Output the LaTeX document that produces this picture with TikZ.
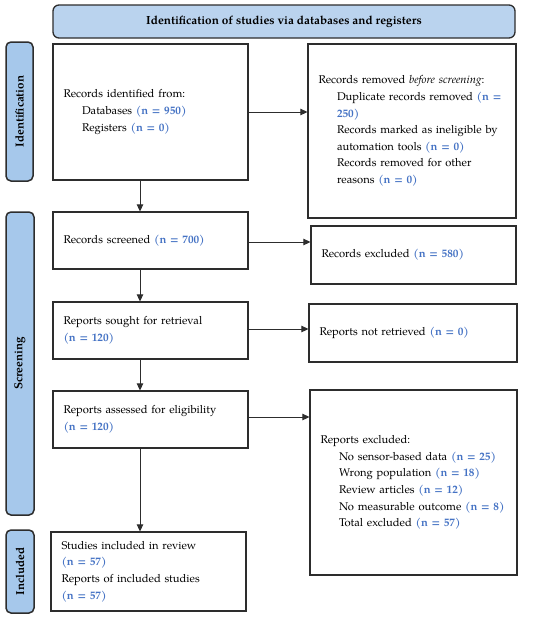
\documentclass[tikz,border=0pt]{standalone}
\usepackage{fontspec}
\setmainfont{TeX Gyre Pagella}
\usetikzlibrary{arrows.meta}
\definecolor{nblue}{RGB}{68,114,196}
\definecolor{hdrfill}{RGB}{186,211,238}
\definecolor{sidefill}{RGB}{166,200,235}
\definecolor{edge}{RGB}{45,45,45}
\newcommand{\ncnt}[1]{\textcolor{nblue}{\textbf{#1}}}
\newcommand{\ind}{\hspace*{18.5pt}}
\tikzset{
  box/.style={draw=edge, line width=1.2pt, fill=white, align=left, inner xsep=10.5pt, inner ysep=0pt,
    font=\fontsize{11.2}{16.6}\selectfont, anchor=center},
  hdr/.style={draw=edge, line width=1.3pt, fill=hdrfill, rounded corners=6pt,
    font=\fontsize{11.8}{14}\selectfont\bfseries},
  side/.style={draw=edge, line width=1.5pt, fill=sidefill, rounded corners=5pt, rotate=90,
    font=\fontsize{11.6}{14}\selectfont\bfseries, inner sep=0pt},
  arr/.style={draw=edge, line width=0.9pt, -{Triangle[width=6.5pt,length=7pt]}}
}
\begin{document}
\begin{tikzpicture}[x=1pt,y=-1pt]
\useasboundingbox (0,0) rectangle (550,619);
\fill[white] (0,0) rectangle (550,619);

\node[hdr, minimum width=462pt, minimum height=33pt] (hdr) at (284,21.5) {Identification of studies via databases and registers};

\node[side, minimum width=139pt, minimum height=27pt] (sid) at (19.5,111.5) {Identification};
\node[side, minimum width=303pt, minimum height=28pt] (sscr) at (20,363.5) {Screening};
\node[side, minimum width=83pt, minimum height=28pt] (sinc) at (20,571.5) {Included};

\node[box, text width=174pt, minimum height=136pt] (b1) at (150.5,112) {Records identified from:\\
\ind Databases \ncnt{(n = 950)}\\
\ind Registers \ncnt{(n = 0)}};

\node[box, text width=187pt, minimum height=174pt] (r1) at (412,131) {Records removed \textit{before screening}:\\
\ind Duplicate records removed \ncnt{(n =}\\
\ind \ncnt{250)}\\
\ind Records marked as ineligible by\\
\ind automation tools \ncnt{(n = 0)}\\
\ind Records removed for other\\
\ind reasons \ncnt{(n = 0)}};

\node[box, text width=184pt, minimum height=58pt] (r2) at (413.5,255) {Records excluded \ncnt{(n = 580)}};
\node[box, text width=174pt, minimum height=57pt] (b2) at (150.5,240.5) {Records screened \ncnt{(n = 700)}};

\node[box, text width=174pt, minimum height=57pt] (b3) at (150.5,330.5) {Reports sought for retrieval\\ \ncnt{(n = 120)}};
\node[box, text width=187pt, minimum height=58pt] (r3) at (413,333) {Reports not retrieved \ncnt{(n = 0)}};

\node[box, text width=174pt, minimum height=57pt] (b4) at (150.5,419.5) {Reports assessed for eligibility\\ \ncnt{(n = 120)}};
\node[box, text width=186pt, minimum height=185pt] (r4) at (413.5,482.5) {Reports excluded:\\
\ind No sensor-based data \ncnt{(n = 25)}\\
\ind Wrong population \ncnt{(n = 18)}\\
\ind Review articles \ncnt{(n = 12)}\\
\ind No measurable outcome \ncnt{(n = 8)}\\
\ind Total excluded \ncnt{(n = 57)}};

\node[box, text width=174pt, minimum height=79pt] (b5) at (148.5,571.5) {Studies included in review\\
\ncnt{(n = 57)}\\
Reports of included studies\\
\ncnt{(n = 57)}};

% horizontal arrows
\draw[arr] (b1.east) -- (b1.east -| r1.west);
\draw[arr] ([yshift=-1.5pt]b2.east) -- ([yshift=-1.5pt]b2.east -| r2.west);
\draw[arr] ([yshift=1.5pt]b3.east) -- ([yshift=1.5pt]b3.east -| r3.west);
\draw[arr] ([yshift=2.5pt]b4.east) -- ([yshift=2.5pt]b4.east -| r4.west);

% vertical arrows
\draw[arr] ([xshift=-10.5pt]b1.south) -- ([xshift=-10.5pt]b1.south |- b2.north);
\draw[arr] ([xshift=-10.5pt]b2.south) -- ([xshift=-10.5pt]b2.south |- b3.north);
\draw[arr] ([xshift=-10.5pt]b3.south) -- ([xshift=-10.5pt]b3.south |- b4.north);
\draw[arr] ([xshift=-10.5pt]b4.south) -- ([xshift=-10.5pt]b4.south |- b5.north);
\end{tikzpicture}
\end{document}
